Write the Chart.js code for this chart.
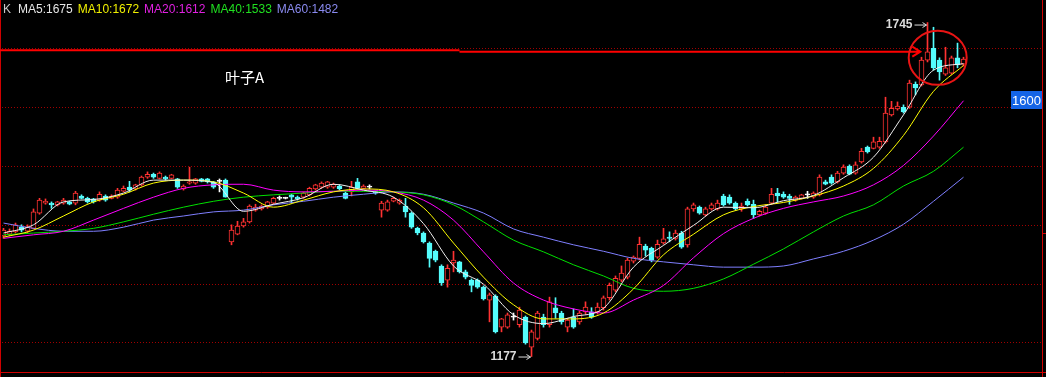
<!DOCTYPE html>
<html>
<head>
<meta charset="utf-8">
<script src="https://cdn.jsdelivr.net/npm/chart.js@4.4.1/dist/chart.umd.min.js"></script>
<style>
  html, body { margin: 0; padding: 0; background: #000; }
  #wrap { width: 1046px; height: 377px; }
</style>
</head>
<body>
<div id="wrap"><canvas id="kline" width="1046" height="377"></canvas></div>
<script>
// ── Données (cours quotidiens) ───────────────────────────────
const openP = [
  1382, 1385, 1389, 1397, 1390, 1395, 1421, 1438, 1438, 1435,
  1438, 1440, 1438, 1450, 1446, 1445, 1443, 1450, 1446, 1448,
  1458, 1465, 1462, 1469, 1482, 1487, 1480, 1482, 1480, 1479,
  1462, 1472, 1472, 1479, 1479, 1474, 1475, 1477, 1372, 1385,
  1399, 1406, 1426, 1428, 1431, 1438, 1446, 1446, 1452, 1448,
  1448, 1452, 1462, 1465, 1465, 1465, 1467, 1455, 1457, 1474,
  1463, 1465, 1457, 1426, 1426, 1441, 1438, 1433, 1421, 1395,
  1387, 1370, 1356, 1331, 1307, 1336, 1338, 1321, 1307, 1307,
  1295, 1273, 1280, 1227, 1227, 1244, 1231, 1244, 1193, 1208,
  1244, 1231, 1260, 1251, 1227, 1244, 1236, 1253, 1253, 1253,
  1260, 1277, 1290, 1307, 1312, 1339, 1344, 1365, 1361, 1346,
  1370, 1380, 1378, 1387, 1367, 1428, 1431, 1418, 1428, 1428,
  1450, 1448, 1438, 1428, 1441, 1436, 1418, 1421, 1438, 1455,
  1453, 1450, 1443, 1446, 1452, 1448, 1452, 1474, 1482, 1474,
  1489, 1501, 1489, 1508, 1533, 1531, 1533, 1542, 1588, 1598,
  1601, 1601, 1640, 1639, 1681, 1701, 1681, 1657, 1659, 1685,
  1674
];
const closeP = [
  1392, 1390, 1401, 1392, 1397, 1423, 1443, 1441, 1435, 1440,
  1443, 1436, 1455, 1446, 1440, 1440, 1453, 1443, 1450, 1460,
  1463, 1460, 1469, 1482, 1487, 1482, 1489, 1479, 1486, 1465,
  1467, 1474, 1479, 1475, 1474, 1465, 1475, 1448, 1392, 1399,
  1406, 1433, 1431, 1433, 1440, 1446, 1446, 1446, 1448, 1445,
  1455, 1463, 1469, 1472, 1474, 1470, 1462, 1446, 1465, 1463,
  1467, 1465, 1455, 1438, 1440, 1446, 1443, 1423, 1397, 1387,
  1372, 1344, 1341, 1302, 1327, 1341, 1321, 1312, 1298, 1295,
  1275, 1282, 1219, 1241, 1248, 1244, 1256, 1200, 1219, 1251,
  1231, 1270, 1251, 1236, 1239, 1227, 1251, 1261, 1244, 1261,
  1277, 1298, 1310, 1319, 1341, 1346, 1368, 1358, 1341, 1368,
  1377, 1378, 1387, 1363, 1428, 1435, 1421, 1428, 1435, 1438,
  1435, 1438, 1428, 1433, 1435, 1418, 1424, 1431, 1453, 1450,
  1448, 1446, 1448, 1452, 1452, 1455, 1482, 1470, 1472, 1489,
  1499, 1487, 1503, 1526, 1525, 1542, 1543, 1591, 1599, 1603,
  1593, 1642, 1634, 1681, 1695, 1668, 1661, 1668, 1685, 1673,
  1683
];
const highP = [
  1395, 1394, 1404, 1401, 1401, 1428, 1446, 1445, 1440, 1441,
  1446, 1441, 1458, 1452, 1448, 1446, 1457, 1452, 1452, 1463,
  1467, 1475, 1470, 1484, 1491, 1489, 1491, 1484, 1487, 1480,
  1469, 1499, 1480, 1480, 1480, 1475, 1479, 1479, 1401, 1407,
  1412, 1435, 1436, 1435, 1441, 1448, 1450, 1448, 1453, 1450,
  1457, 1465, 1470, 1474, 1475, 1472, 1469, 1457, 1475, 1480,
  1469, 1469, 1458, 1441, 1443, 1448, 1445, 1446, 1423, 1397,
  1389, 1372, 1358, 1333, 1333, 1356, 1339, 1324, 1309, 1309,
  1297, 1285, 1282, 1242, 1251, 1251, 1261, 1246, 1222, 1254,
  1249, 1278, 1277, 1254, 1242, 1258, 1254, 1270, 1260, 1268,
  1280, 1302, 1314, 1331, 1344, 1348, 1380, 1368, 1363, 1375,
  1395, 1389, 1392, 1390, 1431, 1438, 1433, 1431, 1438, 1443,
  1453, 1452, 1440, 1438, 1445, 1443, 1426, 1435, 1463, 1463,
  1457, 1453, 1450, 1453, 1458, 1457, 1486, 1477, 1486, 1492,
  1503, 1503, 1508, 1531, 1535, 1550, 1550, 1618, 1611, 1610,
  1605, 1647, 1644, 1686, 1745, 1737, 1685, 1703, 1688, 1710,
  1686
];
const lowP = [
  1378, 1382, 1387, 1389, 1387, 1394, 1419, 1436, 1429, 1433,
  1436, 1435, 1435, 1445, 1438, 1438, 1441, 1441, 1445, 1446,
  1457, 1457, 1460, 1467, 1480, 1480, 1479, 1477, 1479, 1463,
  1460, 1470, 1470, 1474, 1472, 1463, 1457, 1448, 1367, 1384,
  1397, 1404, 1424, 1426, 1429, 1436, 1443, 1445, 1438, 1443,
  1446, 1450, 1460, 1463, 1463, 1463, 1460, 1445, 1450, 1462,
  1462, 1462, 1453, 1414, 1424, 1440, 1436, 1414, 1395, 1384,
  1370, 1329, 1338, 1298, 1295, 1321, 1319, 1309, 1287, 1293,
  1273, 1236, 1217, 1219, 1225, 1239, 1227, 1198, 1177, 1205,
  1227, 1227, 1242, 1232, 1219, 1225, 1232, 1249, 1242, 1249,
  1256, 1273, 1287, 1304, 1309, 1336, 1341, 1348, 1338, 1344,
  1368, 1372, 1375, 1361, 1363, 1424, 1419, 1416, 1426, 1426,
  1433, 1436, 1426, 1424, 1433, 1412, 1416, 1419, 1436, 1440,
  1446, 1436, 1441, 1445, 1446, 1446, 1450, 1469, 1470, 1472,
  1487, 1486, 1487, 1506, 1523, 1530, 1531, 1540, 1586, 1596,
  1591, 1599, 1622, 1637, 1678, 1664, 1647, 1655, 1657, 1668,
  1671
];

// moyennes mobiles, relevées toutes les 5 séances
const maIdx = [0, 5, 10, 15, 20, 25, 30, 35, 40, 45, 50, 55, 60, 65, 70, 75, 80,
               85, 90, 95, 100, 105, 110, 115, 120, 125, 130, 135, 140, 145, 150, 155, 160];
const ma5  = [1387, 1401, 1440, 1444, 1455, 1477, 1477, 1473, 1424, 1436, 1447, 1470, 1460, 1448, 1403, 1331, 1300,
              1248, 1233, 1245, 1259, 1329, 1366, 1400, 1431, 1430, 1442, 1451, 1481, 1516, 1588, 1664, 1675];
const ma10 = [1380, 1392, 1416, 1440, 1453, 1472, 1477, 1474, 1455, 1431, 1443, 1457, 1462, 1457, 1430, 1370, 1312,
              1265, 1241, 1241, 1251, 1292, 1350, 1385, 1418, 1432, 1439, 1450, 1467, 1497, 1553, 1628, 1672];
const ma20 = [1378, 1384, 1390, 1409, 1429, 1448, 1463, 1469, 1470, 1460, 1457, 1458, 1460, 1457, 1443, 1409, 1355,
              1302, 1273, 1258, 1251, 1273, 1298, 1345, 1386, 1412, 1429, 1440, 1450, 1469, 1502, 1552, 1612];
const ma40 = [1384, 1387, 1390, 1395, 1406, 1419, 1431, 1441, 1448, 1452, 1455, 1458, 1458, 1457, 1452, 1435, 1406,
              1375, 1355, 1333, 1314, 1293, 1288, 1293, 1309, 1334, 1360, 1389, 1416, 1435, 1467, 1492, 1533];
const ma60 = [1404, 1395, 1390, 1390, 1397, 1409, 1416, 1423, 1426, 1435, 1441, 1448, 1453, 1457, 1453, 1438, 1421,
              1394, 1380, 1367, 1356, 1344, 1338, 1333, 1329, 1329, 1331, 1343, 1356, 1375, 1402, 1441, 1482];

const maNames  = ['MA5', 'MA10', 'MA20', 'MA40', 'MA60'];
const maLast   = [1675, 1672, 1612, 1533, 1482];
const gridTicks = [1200, 1300, 1400, 1500, 1600, 1700];

// ── Couleurs ─────────────────────────────────────────────────
const UP   = '#ff3232';
const DOWN = '#54fcfc';
const DOJI = '#ffffff';
const GRID = '#a00000';
const FRAME = '#d00000';
const maColors   = ['#f0f0f0', '#ffff00', '#ff00ff', '#00e000', '#7f7fff'];
const maTxtColor = ['#e6e6e6', '#f0f000', '#e020e0', '#20e020', '#8a8af0'];

const candleColor = (i) => closeP[i] > openP[i] ? UP : closeP[i] < openP[i] ? DOWN : DOJI;
const idx = openP.map((_, i) => i);

const maSets = [ma5, ma10, ma20, ma40, ma60].map((vals, k) => ({
    type: 'line',
    label: maNames[k],
    data: maIdx.map((x, j) => ({ x, y: vals[j] })),
    borderColor: maColors[k],
    borderWidth: 1,
    pointRadius: 0,
    cubicInterpolationMode: 'monotone',
    order: 1,
}));

// ── Décor : cadre, légende, annotations ──────────────────────
const overlay = {
    id: 'overlay',
    afterDraw(chart) {
        const { ctx, chartArea: a, scales: { x, y } } = chart;
        const W = chart.width, H = chart.height;
        ctx.save();

        // cadre rouge
        ctx.strokeStyle = FRAME;
        ctx.lineWidth = 1;
        ctx.beginPath();
        ctx.moveTo(0.5, 0); ctx.lineTo(0.5, H);
        ctx.moveTo(a.right + 0.5, 0); ctx.lineTo(a.right + 0.5, H);
        ctx.moveTo(0, a.bottom + 0.5); ctx.lineTo(W, a.bottom + 0.5);
        ctx.moveTo(a.right, 233.5); ctx.lineTo(W, 233.5);
        ctx.stroke();

        // légende
        ctx.font = '12px "Liberation Sans", Arial, sans-serif';
        ctx.textBaseline = 'middle';
        ctx.fillStyle = '#c8c8c8';
        ctx.fillText('K', 3, 10);
        let lx = 18;
        maNames.forEach((n, k) => {
            const t = n + ':' + maLast[k];
            ctx.fillStyle = maTxtColor[k];
            ctx.fillText(t, lx, 10);
            lx += ctx.measureText(t).width + 5;
        });

        // étiquette
        ctx.font = '15px "Noto Sans CJK SC", sans-serif';
        ctx.fillStyle = '#ffffff';
        ctx.fillText('叶子A', 225, 77);

        // flèche + cercle rouges
        const y1 = y.getPixelForValue(1698), y2 = y.getPixelForValue(1695.5);
        const xm = x.getPixelForValue(76), tip = x.getPixelForValue(152.8);
        ctx.strokeStyle = '#ff0000';
        ctx.lineWidth = 2;
        ctx.beginPath();
        ctx.moveTo(0, y1); ctx.lineTo(xm, y1);
        ctx.moveTo(xm, y2); ctx.lineTo(tip, y2);
        ctx.moveTo(tip - 8, y2 - 5); ctx.lineTo(tip, y2); ctx.lineTo(tip - 8, y2 + 5);
        ctx.stroke();
        ctx.strokeStyle = '#e81414';
        ctx.beginPath();
        ctx.ellipse(x.getPixelForValue(155.7), y.getPixelForValue(1685), 29, 27, 0, 0, Math.PI * 2);
        ctx.stroke();

        // plus haut / plus bas
        const markExtreme = (i, val, dy) => {
            const px = x.getPixelForValue(i) - 1, py = y.getPixelForValue(val) + dy;
            ctx.font = 'bold 12px "Liberation Sans", Arial, sans-serif';
            ctx.fillStyle = '#dcdcdc';
            ctx.textAlign = 'right';
            ctx.fillText(String(val), px - 14, py);
            ctx.strokeStyle = '#dcdcdc';
            ctx.lineWidth = 1;
            ctx.beginPath();
            ctx.moveTo(px - 12, py + 0.5); ctx.lineTo(px, py + 0.5);
            ctx.moveTo(px - 4, py - 2); ctx.lineTo(px, py + 0.5); ctx.lineTo(px - 4, py + 3);
            ctx.stroke();
            ctx.textAlign = 'left';
        };
        markExtreme(154, highP[154], 2);
        markExtreme(88, lowP[88], 0);

        // étiquette de prix 1600
        const ly = Math.round(y.getPixelForValue(1613));
        ctx.fillStyle = '#1464e6';
        ctx.fillRect(1011, ly - 9, 31, 18);
        ctx.font = '13px "Liberation Sans", Arial, sans-serif';
        ctx.fillStyle = '#ffffff';
        ctx.textAlign = 'center';
        ctx.fillText('1600', 1026.5, ly + 1);

        ctx.restore();
    },
};

new Chart(document.getElementById('kline'), {
    data: {
        datasets: [
            {
                type: 'bar',
                label: 'mèches',
                data: idx.map(i => ({ x: i, y: [lowP[i], highP[i]] })),
                backgroundColor: ctx => candleColor(ctx.dataIndex),
                barThickness: 1,
                grouped: false,
                order: 3,
            },
            {
                type: 'bar',
                label: 'corps',
                data: idx.map(i => ({ x: i, y: [openP[i], closeP[i]] })),
                backgroundColor: ctx => candleColor(ctx.dataIndex) === UP ? '#000000' : candleColor(ctx.dataIndex),
                borderColor: ctx => candleColor(ctx.dataIndex),
                borderWidth: 1,
                borderSkipped: false,
                barThickness: 5,
                minBarLength: 1,
                grouped: false,
                order: 2,
            },
            ...maSets,
        ],
    },
    options: {
        responsive: false,
        animation: false,
        events: [],
        layout: { padding: { left: 2, right: 4, top: 0, bottom: 5 } },
        plugins: { legend: { display: false }, tooltip: { enabled: false } },
        scales: {
            x: { type: 'linear', offset: false, min: -0.25, max: 173.083, display: false },
            y: {
                type: 'linear',
                position: 'right',
                min: 1150.68,
                max: 1783.33,
                afterBuildTicks: s => { s.ticks = gridTicks.map(v => ({ value: v })); },
                ticks: { display: false },
                grid: { color: GRID, lineWidth: 1, drawTicks: false },
                border: { display: false, dash: [1, 2] },
            },
        },
    },
    plugins: [overlay],
});
</script>
</body>
</html>
